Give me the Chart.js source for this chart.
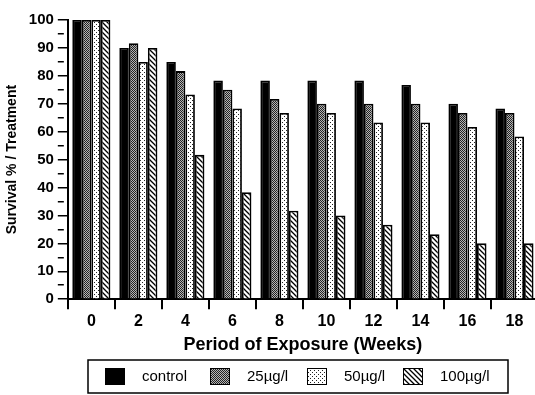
<!DOCTYPE html>
<html>
<head>
<meta charset="utf-8">
<script src="https://cdn.jsdelivr.net/npm/chart.js@4/dist/chart.umd.min.js"></script>
<style>
  html, body { margin: 0; padding: 0; background: #fff; overflow: hidden; }
  #wrap { width: 540px; height: 395px; }
</style>
</head>
<body>
<div id="wrap"><canvas id="myChart" width="540" height="395"></canvas></div>
<script>
'use strict';

let weeks = ['0', '2', '4', '6', '8', '10', '12', '14', '16', '18'];
let seriesNames = ['control', '25µg/l', '50µg/l', '100µg/l'];
let control = [100, 90, 85, 78.3, 78.3, 78.3, 78.3, 76.7, 70, 68.3];
let conc25 = [100, 91.7, 81.7, 75, 71.7, 70, 70, 70, 66.7, 66.7];
let conc50 = [100, 85, 73.3, 68.3, 66.7, 66.7, 63.3, 63.3, 61.7, 58.3];
let conc100 = [100, 90, 51.7, 38.3, 31.7, 30, 26.7, 23.3, 20, 20];
let yTickLabels = [0, 10, 20, 30, 40, 50, 60, 70, 80, 90, 100];

let fontFamily = '"Liberation Sans", Arial, Helvetica, sans-serif';

function makePattern(kind) {
  let c = document.createElement('canvas');
  let p = c.getContext('2d');
  if (kind === 'check') {
    c.width = 2; c.height = 2;
    p.fillStyle = '#b5b5b5';
    p.fillRect(0, 0, 2, 2);
    p.fillStyle = '#222';
    p.fillRect(0, 0, 1, 1);
    p.fillRect(1, 1, 1, 1);
  } else if (kind === 'dots') {
    c.width = 4; c.height = 4;
    p.fillStyle = '#fff';
    p.fillRect(0, 0, 4, 4);
    p.fillStyle = '#222';
    p.fillRect(0, 0, 1, 1);
    p.fillRect(2, 2, 1, 1);
  } else {
    c.width = 5; c.height = 5;
    p.fillStyle = '#fff';
    p.fillRect(0, 0, 5, 5);
    p.strokeStyle = '#000';
    p.lineWidth = 1.3;
    p.beginPath();
    p.moveTo(-1, -1); p.lineTo(6, 6);
    p.moveTo(-1, 4); p.lineTo(1, 6);
    p.moveTo(4, -1); p.lineTo(6, 1);
    p.stroke();
  }
  return p.createPattern(c, 'repeat');
}

let fills = ['#000', makePattern('check'), makePattern('dots'), makePattern('stripes')];
let allValues = [control, conc25, conc50, conc100];

let datasets = [];
for (let i = 0; i < allValues.length; i++) {
  datasets.push({
    label: seriesNames[i],
    data: allValues[i],
    backgroundColor: fills[i],
    borderColor: '#000',
    borderWidth: 1.8,
    borderSkipped: 'bottom',
    categoryPercentage: 0.81,
    barPercentage: 1.0
  });
}

// boxed legend under the x axis title
let boxLegend = {
  id: 'boxLegend',
  afterDraw(chart) {
    let ctx = chart.ctx;
    let itemX = [105, 210, 307, 403];
    let top = 360, bottom = 393;
    ctx.save();
    ctx.strokeStyle = '#000';
    ctx.lineWidth = 1.5;
    ctx.strokeRect(88, top, 420, bottom - top);
    ctx.font = '15px ' + fontFamily;
    ctx.textBaseline = 'middle';
    chart.data.datasets.forEach((ds, i) => {
      let x = itemX[i];
      ctx.fillStyle = ds.backgroundColor;
      ctx.fillRect(x, 368, 20, 17);
      ctx.lineWidth = 1;
      ctx.strokeStyle = '#000';
      ctx.strokeRect(x + 0.5, 368.5, 19, 16);
      ctx.fillStyle = '#000';
      ctx.fillText(ds.label, x + 37, 377);
    });
    ctx.restore();
  }
};

let chartStuff = {
  type: 'bar',
  data: {
    labels: weeks,
    datasets: datasets
  },
  options: {
    responsive: false,
    animation: false,
    layout: {
      padding: { top: 20, left: 2, right: 2, bottom: 35 }
    },
    plugins: {
      legend: { display: false },
      tooltip: { enabled: false }
    },
    scales: {
      x: {
        grid: {
          offset: true,
          drawOnChartArea: false,
          drawTicks: true,
          tickLength: 10,
          color: '#000',
          lineWidth: 2
        },
        border: { color: '#000', width: 2 },
        ticks: {
          color: '#000',
          padding: 3,
          font: { family: fontFamily, size: 16, weight: 'bold' }
        },
        title: {
          display: true,
          text: 'Period of Exposure (Weeks)',
          color: '#000',
          padding: { top: 0, bottom: 4 },
          font: { family: fontFamily, size: 18, weight: 'bold' }
        }
      },
      y: {
        min: 0,
        max: 100,
        grid: {
          drawOnChartArea: false,
          drawTicks: true,
          tickLength: 10,
          color: '#000',
          lineWidth: 1.5,
          tickBorderDash: (c) => (yTickLabels.includes(c.tick.value) ? [] : [6, 100])
        },
        border: { color: '#000', width: 2 },
        ticks: {
          stepSize: 5,
          autoSkip: false,
          color: '#000',
          padding: 4,
          font: { family: fontFamily, size: 15, weight: 'bold' },
          callback: (v) => (yTickLabels.includes(v) ? String(v) : '')
        },
        title: {
          display: true,
          text: 'Survival % / Treatment',
          color: '#000',
          padding: { top: 2, bottom: 4 },
          font: { family: fontFamily, size: 14, weight: 'bold' }
        }
      }
    }
  },
  plugins: [boxLegend]
};

const ctx = document.getElementById('myChart').getContext('2d');
// eslint-disable-next-line no-undef
new Chart(ctx, chartStuff);
</script>
</body>
</html>
